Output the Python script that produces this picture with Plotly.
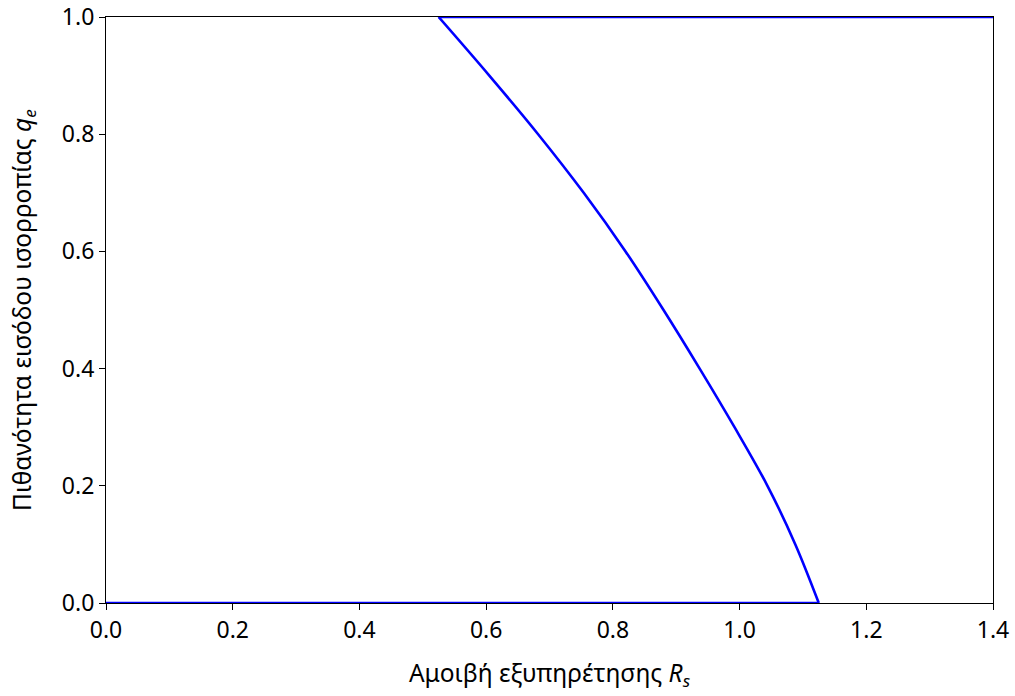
import plotly.graph_objects as go

# Equilibrium entry probability q_e as a function of the service reward R_s
# lower branch: q_e = 0 up to the point where the curve meets the axis
lower_rs = [0.0, 1.125]
lower_q = [0.0, 0.0]

# mixed-strategy branch
mixed_rs = [1.125, 1.088, 1.044, 0.992, 0.937, 0.880, 0.820, 0.754, 0.682, 0.605, 0.525]
mixed_q = [0.0, 0.1, 0.2, 0.3, 0.4, 0.5, 0.6, 0.7, 0.8, 0.9, 1.0]

# upper branch: q_e = 1
upper_rs = [0.525, 1.4]
upper_q = [1.0, 1.0]

x_ticks = [0.0, 0.2, 0.4, 0.6, 0.8, 1.0, 1.2, 1.4]
y_ticks = [0.0, 0.2, 0.4, 0.6, 0.8, 1.0]

blue = dict(color="#0000ff", width=2.6)

fig = go.Figure()
fig.add_trace(go.Scatter(x=lower_rs, y=lower_q, mode="lines", line=blue,
                         showlegend=False, hoverinfo="skip"))
fig.add_trace(go.Scatter(x=mixed_rs, y=mixed_q, mode="lines",
                         line=dict(blue, shape="spline", smoothing=1.0),
                         showlegend=False, hoverinfo="skip"))
fig.add_trace(go.Scatter(x=upper_rs, y=upper_q, mode="lines", line=blue,
                         showlegend=False, hoverinfo="skip"))

font = dict(family="Noto Sans, Open Sans, sans-serif", size=23, color="#000000")
title_font = dict(font, size=24.5)

axis_common = dict(
    showgrid=False,
    zeroline=False,
    showline=True,
    linecolor="#000000",
    linewidth=1.2,
    mirror=True,
    ticks="outside",
    ticklen=6,
    tickwidth=1.2,
    tickcolor="#000000",
    tickfont=font,
    tickformat=".1f",
    automargin=False,
)

fig.update_xaxes(
    range=[0, 1.4],
    tickvals=x_ticks,
    title=dict(text="Αμοιβή εξυπηρέτησης <i>R</i><sub><i>s</i></sub>", font=title_font, standoff=21),
    **axis_common,
)
fig.update_yaxes(
    range=[0, 1.0],
    tickvals=y_ticks,
    title=dict(text="Πιθανότητα εισόδου ισορροπίας <i>q</i><sub><i>e</i></sub>", font=title_font, standoff=23),
    **axis_common,
)

fig.update_layout(
    width=1015,
    height=696,
    margin=dict(l=106, r=22, t=17, b=93),
    plot_bgcolor="#ffffff",
    paper_bgcolor="#ffffff",
    font=font,
)

fig.write_html("out.html")
